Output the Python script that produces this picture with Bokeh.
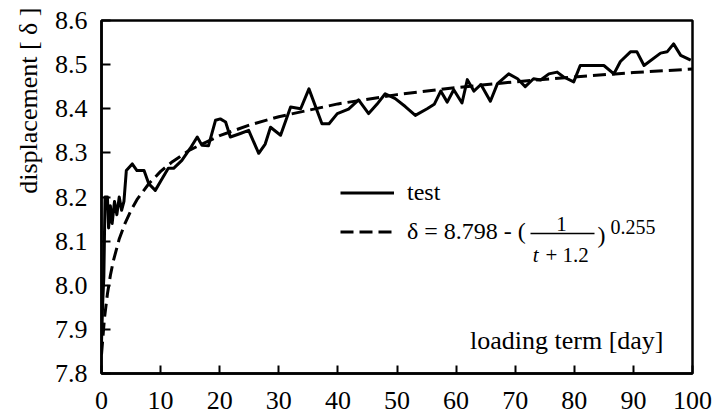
from bokeh.embed import file_html
from bokeh.models import (FixedTicker, Label, Legend, LegendItem,
                          PrintfTickFormatter, Range1d, Title)
from bokeh.plotting import figure
from bokeh.resources import INLINE

FONT = "'Liberation Serif'"

# measured displacement of the test specimen over the loading term
test_day = [0.0, 0.2, 0.4, 0.6, 1.0, 1.2, 1.5, 1.8, 2.2, 2.6, 3.0, 3.4, 3.8,
            4.2, 5.2, 6.0, 7.2, 8.0, 9.1, 10.2, 11.3, 12.2, 13.6, 15.0, 16.2,
            17.0, 18.1, 19.3, 20.1, 21.0, 21.8, 23.5, 24.9, 26.6, 27.7, 28.6,
            30.3, 32.0, 33.7, 35.1, 37.3, 38.5, 39.9, 41.8, 43.5, 45.2, 46.6,
            48.0, 49.7, 51.4, 53.1, 55.1, 56.3, 57.4, 58.5, 59.6, 61.0, 61.9,
            63.0, 64.2, 65.8, 67.0, 68.9, 70.4, 71.7, 73.1, 74.3, 75.7, 77.1,
            78.2, 79.9, 81.0, 85.0, 86.7, 87.8, 89.5, 90.6, 91.8, 94.6, 95.7,
            96.8, 98.0, 99.7]
test_disp = [7.87, 7.96, 8.02, 8.20, 8.20, 8.13, 8.18, 8.14, 8.19, 8.16, 8.20,
             8.17, 8.19, 8.26, 8.275, 8.26, 8.26, 8.23, 8.215, 8.24, 8.265,
             8.265, 8.283, 8.31, 8.336, 8.317, 8.316, 8.374, 8.377, 8.37,
             8.336, 8.344, 8.351, 8.299, 8.32, 8.358, 8.34, 8.404, 8.40,
             8.445, 8.366, 8.366, 8.389, 8.399, 8.42, 8.389, 8.41, 8.434,
             8.423, 8.405, 8.385, 8.40, 8.41, 8.44, 8.415, 8.443, 8.413,
             8.466, 8.44, 8.455, 8.417, 8.457, 8.479, 8.468, 8.45, 8.468,
             8.465, 8.479, 8.483, 8.472, 8.461, 8.498, 8.498, 8.479, 8.507,
             8.529, 8.529, 8.498, 8.526, 8.529, 8.547, 8.521, 8.51]

# fitted curve  delta = 8.798 - (1 / (t + 1.2)) ** 0.255, tabulated
fit_day = [0, 0.5, 1, 1.5, 2, 3, 4, 5, 6, 8, 10, 12, 15, 20, 25, 30, 40, 50,
           60, 70, 80, 90, 100]
fit_disp = [7.843, 7.925, 7.980, 8.022, 8.055, 8.105, 8.141, 8.170, 8.194,
            8.230, 8.258, 8.280, 8.307, 8.339, 8.363, 8.382, 8.411, 8.432,
            8.448, 8.461, 8.472, 8.482, 8.490]

x_ticks = [0, 10, 20, 30, 40, 50, 60, 70, 80, 90, 100]
y_ticks = [7.8, 7.9, 8.0, 8.1, 8.2, 8.3, 8.4, 8.5, 8.6]

X0, X1, Y0, Y1 = 0, 100, 7.8, 8.6
LEFT, RIGHT, TOP, BOTTOM = 101, 692, 20, 373


def sx(px):
    """screen x (pixels) -> days"""
    return X0 + (px - LEFT) * (X1 - X0) / (RIGHT - LEFT)


def sy(py):
    """screen y (pixels) -> displacement"""
    return Y0 + (BOTTOM - py) * (Y1 - Y0) / (BOTTOM - TOP)


p = figure(width=712, height=420, output_backend="svg", toolbar_location=None,
           x_range=Range1d(X0, X1), y_range=Range1d(Y0, Y1),
           min_border_left=LEFT, min_border_right=712 - RIGHT,
           min_border_top=TOP, min_border_bottom=420 - BOTTOM)

p.xgrid.visible = False
p.ygrid.visible = False
p.outline_line_color = "black"
p.outline_line_width = 2.5
p.outline_line_alpha = 1.0
p.background_fill_color = "white"
p.border_fill_color = "white"

for ax in (p.xaxis[0], p.yaxis[0]):
    ax.axis_line_width = 2.5
    ax.axis_line_color = "black"
    ax.major_tick_line_width = 2
    ax.major_tick_line_color = "black"
    ax.major_tick_out = 0
    ax.minor_tick_line_color = None
    ax.major_label_text_font = FONT
    ax.major_label_text_font_size = "26px"
    ax.major_label_text_font_style = "normal"
    ax.major_label_text_color = "black"

p.xaxis.ticker = FixedTicker(ticks=x_ticks)
p.xaxis.major_tick_in = 8
p.xaxis.major_label_standoff = 18
p.yaxis.ticker = FixedTicker(ticks=y_ticks)
p.yaxis.formatter = PrintfTickFormatter(format="%.1f")
p.yaxis.major_tick_in = 9
p.yaxis.major_label_standoff = 14

r_test = p.line(test_day, test_disp, line_color="black", line_width=3,
                line_join="round")
r_fit = p.line(fit_day, fit_disp, line_color="black", line_width=3,
               line_dash="13 6")

legend = Legend(items=[LegendItem(label="test", renderers=[r_test]),
                       LegendItem(label="δ = 8.798 - (", renderers=[r_fit])],
                location=(239, 122), padding=0, margin=0, spacing=0,
                glyph_width=54, glyph_height=39, label_height=39,
                label_standoff=13, border_line_alpha=0,
                background_fill_alpha=0,
                label_text_font=FONT,
                label_text_font_style="normal", label_text_font_size="24px",
                label_text_color="black")
p.add_layout(legend, "center")

label_style = dict(text_font=FONT, text_color="black")

# fraction and exponent of the fitted formula
p.add_layout(Label(x=sx(561), y=sy(223), text="1", text_align="center",
                   text_baseline="alphabetic", text_font_size="21px",
                   **label_style))
p.segment(x0=[sx(530)], y0=[sy(233)], x1=[sx(594)], y1=[sy(233)],
          line_color="black", line_width=1.5)
p.add_layout(Label(x=sx(538), y=sy(254), text="t", text_align="right",
                   text_baseline="alphabetic", text_font_size="21px",
                   text_font_style="italic", **label_style))
p.add_layout(Label(x=sx(545), y=sy(254), text="+ 1.2", text_align="left",
                   text_baseline="alphabetic", text_font_size="21px",
                   **label_style))
p.add_layout(Label(x=sx(597), y=sy(234), text=")", text_align="left",
                   text_baseline="alphabetic", text_font_size="24px",
                   **label_style))
p.add_layout(Label(x=sx(610), y=sy(226), text="0.255", text_align="left",
                   text_baseline="alphabetic", text_font_size="20px",
                   **label_style))

# axis titles
p.add_layout(Label(x=sx(663), y=sy(340), text="loading term [day]",
                   text_align="right", text_baseline="alphabetic",
                   text_font_style="normal", text_font_size="26px",
                   **label_style))
p.add_layout(Title(text="displacement [ δ ]", align="right", offset=-13,
                   standoff=18, text_font=FONT, text_font_size="26px",
                   text_font_style="normal", text_color="black"), "left")

open("out.html", "w").write(file_html(p, INLINE))
